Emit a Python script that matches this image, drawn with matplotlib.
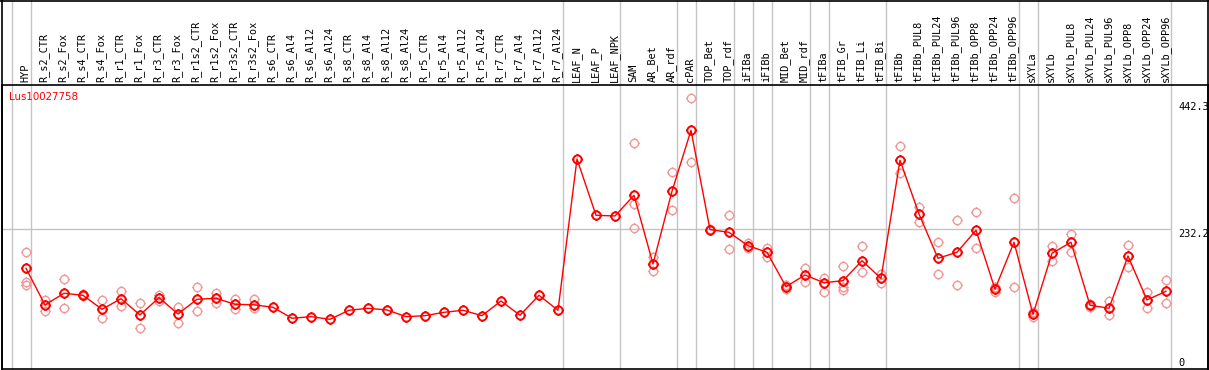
import numpy as np
import matplotlib
import matplotlib.pyplot as plt
from matplotlib.path import Path
from matplotlib.lines import Line2D

matplotlib.use('Agg')

gene = 'Lus10027758'

categories = ['HYP',
              'R_s2_CTR', 'R_s2_Fox', 'R_s4_CTR', 'R_s4_Fox', 'R_r1_CTR', 'R_r1_Fox',
              'R_r3_CTR', 'R_r3_Fox', 'R_r1s2_CTR', 'R_r1s2_Fox', 'R_r3s2_CTR', 'R_r3s2_Fox',
              'R_s6_CTR', 'R_s6_Al4', 'R_s6_Al12', 'R_s6_Al24', 'R_s8_CTR', 'R_s8_Al4',
              'R_s8_Al12', 'R_s8_Al24', 'R_r5_CTR', 'R_r5_Al4', 'R_r5_Al12', 'R_r5_Al24',
              'R_r7_CTR', 'R_r7_Al4', 'R_r7_Al12', 'R_r7_Al24',
              'LEAF_N', 'LEAF_P', 'LEAF_NPK', 'SAM', 'AR_Bet', 'AR_rdf', 'cPAR',
              'TOP_Bet', 'TOP_rdf', 'iFIBa', 'iFIBb', 'MID_Bet', 'MID_rdf',
              'tFIBa', 'tFIB_Gr', 'tFIB_Li', 'tFIB_Bi',
              'tFIBb', 'tFIBb_PUL8', 'tFIBb_PUL24', 'tFIBb_PUL96', 'tFIBb_OPP8',
              'tFIBb_OPP24', 'tFIBb_OPP96', 'sXYLa',
              'sXYLb', 'sXYLb_PUL8', 'sXYLb_PUL24', 'sXYLb_PUL96', 'sXYLb_OPP8',
              'sXYLb_OPP24', 'sXYLb_OPP96']

# mean expression per sample
mean_values = [167.0,
               106.2, 125.6, 122.2, 99.0, 116.6, 89.6,
               118.3, 91.2, 115.6, 117.3, 107.3, 106.5,
               102.3, 84.1, 86.8, 82.4, 97.4, 100.7,
               97.9, 86.8, 88.4, 94.0, 97.4, 88.4,
               112.8, 89.1, 122.2, 97.4,
               348.3, 254.9, 253.8, 288.1, 174.2, 294.8, 395.9,
               231.1, 226.7, 204.5, 193.6, 136.5, 155.9,
               143.1, 146.5, 179.6, 150.4,
               346.2, 257.1, 183.6, 193.6, 230.1,
               132.2, 210.2, 90.7,
               191.9, 210.2, 105.7, 100.7, 187.4,
               114.5, 128.9]

# replicate values (None = not shown)
rep_a = [194.6,
         114.5, 148.8, 124.4, 114.5, 129.4, 109.0,
         122.2, 103.3, 135.5, 126.6, 115.6, 115.6,
         None, None, None, None, None, None,
         None, None, None, None, None, None,
         None, None, None, None,
         None, None, None, 374.4, 186.3, 326.3, 449.0,
         232.0, 254.9, 208.5, 201.2, 139.3, 168.0,
         151.4, 170.8, 204.0, 157.1,
         369.9, 268.2, 210.2, 247.1, 259.9,
         136.5, 283.1, 94.0,
         204.5, 223.9, 107.8, 112.8, 205.7,
         127.7, 147.1]
rep_b = [144.8,
         96.7, 100.7, 121.1, 84.1, 105.0, 67.5,
         113.3, 75.8, 96.2, 109.0, 100.0, 100.7,
         None, None, None, None, None, None,
         None, None, None, None, None, None,
         None, None, None, None,
         None, None, None, 273.2, 162.1, 263.7, 343.4,
         230.0, 199.0, 201.2, 186.3, 132.2, 143.8,
         127.2, 135.5, 160.4, 143.1,
         324.6, 243.3, 157.1, 138.8, 200.2,
         127.2, 135.5, 85.8,
         179.6, 194.6, 103.3, 89.1, 168.7,
         101.7, 109.0]
rep_c = [139.3,
         None, None, None, None, None, None,
         None, None, None, None, None, None,
         None, None, None, None, None, None,
         None, None, None, None, None, None,
         None, None, None, None,
         None, None, None, 233.4, None, None, None,
         None, None, None, None, None, None,
         None, 131.0, None, None,
         None, None, None, None, None,
         None, None, None,
         None, None, None, None, None,
         None, None]

# last sample of each tissue group (vertical separators)
group_ends = ['HYP', 'R_r7_Al24', 'LEAF_NPK', 'AR_rdf', 'cPAR', 'TOP_rdf', 'iFIBa',
              'iFIBb', 'MID_rdf', 'tFIBa', 'tFIB_Bi', 'tFIBb_OPP96', 'sXYLa', 'sXYLb_OPP96']

y_ticks = [0, 232.2, 442.3]


def target_marker():
    # ring with four tiny ticks, drawn as a polygon
    t = np.linspace(0, 2 * np.pi, 41)
    verts = [(np.cos(a), np.sin(a)) for a in t]
    codes = [Path.MOVETO] + [Path.LINETO] * 40
    for a, b in [((0, 1), (0, 1.25)), ((0, -1), (0, -1.25)),
                 ((1, 0), (1.25, 0)), ((-1, 0), (-1.25, 0))]:
        verts += [a, b]
        codes += [Path.MOVETO, Path.LINETO]
    return Path(verts, codes)


def plot():
    W, H = 1209, 370
    fig = plt.figure(figsize=(W / 100, H / 100), dpi=100)
    # axes spans x 1..1208 px, y 85..369 px (from top)
    ax = fig.add_axes([1.5 / W, 1 / H, (1208 - 1.5) / W, (369 - 85) / H])

    x = np.arange(len(categories))
    x0_px, step_px = 26, 19
    ax.set_xlim((1.5 - x0_px) / step_px, (1208 - x0_px) / step_px)
    ax.set_ylim(0, 471.0)
    ax.set_xticks([])
    ax.set_yticks([])
    for s in ax.spines.values():
        s.set_color('black')
        s.set_linewidth(1.2)

    grey = '#c4c4c4'
    full = (369 - 0) / (369 - 85)
    ax.axvline(-0.76, ymin=0, ymax=full, color=grey, lw=1, clip_on=False, zorder=1)
    for name in group_ends:
        ax.axvline(categories.index(name) + 0.24, ymin=0, ymax=full,
                   color=grey, lw=1, clip_on=False, zorder=1)
    last_sep = categories.index(group_ends[-1]) + 0.24
    ax.hlines(232.2, ax.get_xlim()[0], last_sep, color=grey, lw=1, zorder=1)

    mk = target_marker()
    for reps in (rep_a, rep_b, rep_c):
        xs = [i for i, v in enumerate(reps) if v is not None]
        ys = [v for v in reps if v is not None]
        ax.plot(xs, ys, linestyle='none', marker=mk, markersize=7.4,
                markerfacecolor='none', markeredgecolor='#f09898', markeredgewidth=1.0, zorder=2)

    ax.plot(x, mean_values, color='#ff0000', lw=1.0, marker=mk, markersize=7.4,
            markerfacecolor='none', markeredgecolor='#ff0000', markeredgewidth=1.4, zorder=3)

    # sample names, rotated, above the plot area
    for i, name in enumerate(categories):
        ax.text(i - 0.05, 1 + 2.5 / 284, name, rotation=90, ha='center', va='bottom',
                fontsize=7.4, family='DejaVu Sans Mono', transform=ax.get_xaxis_transform(),
                clip_on=False)

    # y tick values on the right
    tx = (1178 - x0_px) / step_px
    for v in y_ticks:
        if v == 0:
            ax.text(tx, 2, '0', ha='left', va='bottom', fontsize=7.4, family='DejaVu Sans Mono')
        else:
            ax.text(tx, v, f'{v:.1f}', ha='left', va='top', fontsize=7.4,
                    family='DejaVu Sans Mono', clip_on=True)

    ax.text(7.5 / 1206, 1 - 7 / 284, gene, color='#ff0000', fontsize=7.4,
            ha='left', va='top', transform=ax.transAxes)

    # outer frame
    fig.add_artist(Line2D([0, 1], [1 - 0.6 / H, 1 - 0.6 / H], color='black', lw=1.2,
                          transform=fig.transFigure))
    fig.add_artist(Line2D([1.5 / W, 1.5 / W], [1 / H, 1], color='black', lw=1.2,
                          transform=fig.transFigure))
    fig.add_artist(Line2D([1208 / W, 1208 / W], [1 / H, 1], color='black', lw=1.2,
                          transform=fig.transFigure))

    fig.savefig('out.png', dpi=100, facecolor='white')


if __name__ == '__main__':
    plot()
